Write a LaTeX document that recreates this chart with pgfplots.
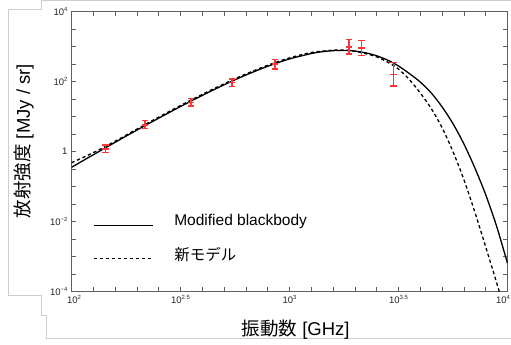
\documentclass[border=0pt]{standalone}
\usepackage{fontspec}
\setmainfont{Liberation Sans}
\newfontfamily\jp{Noto Sans CJK JP}
\usepackage{pgfplots}
\usepackage{pgfplotstable}
\pgfplotsset{compat=1.18}

\definecolor{errred}{RGB}{245,55,55}
\definecolor{framegray}{RGB}{205,205,205}
\definecolor{axgray}{RGB}{95,95,95}

\newcommand{\tl}[1]{10\raisebox{0.75ex}{\fontsize{6}{6}\selectfont #1}}

% observed values (centre)
\pgfplotstableread{
x y
143 1.19
217 5.79
353 25.8
545 93.6
857 320
1874 980
2141 918
2998 158.5
}\obstab

% error bar ends (lower, upper) for each observation
\pgfplotstableread{
x y
143 0.94
143 1.55
nan nan
217 4.54
217 7.69
nan nan
353 20.2
353 32.7
nan nan
545 71.9
545 119.4
nan nan
857 231
857 436
nan nan
1874 618
1874 1626
nan nan
2141 568
2141 1483
nan nan
2998 75.4
2998 349
}\errtab

\pgfplotstableread{
x y
100 0.358
125.9 0.818
158.5 1.854
199.5 4.130
251.2 9.078
316.2 19.50
398.1 40.64
501.2 81.47
631.0 155.2
794.3 275.4
1000 446.7
1258.9 636.8
1412.5 717.8
1584.9 770.9
1778.3 783.4
1995.3 749.9
2238.7 666.8
2511.9 549.5
2818.4 413.0
3162.3 280.5
3548.1 170.6
3981.1 97.7
4466.8 47.86
5011.9 19.05
5623.4 6.31
6309.6 1.660
7079.5 0.3467
7943.3 0.05888
8912.5 0.007413
10000 0.0006457
}\mbbtab

\pgfplotstableread{
x y
100 0.483
125.9 0.940
158.5 1.986
199.5 4.426
251.2 9.727
316.2 20.89
398.1 43.55
501.2 87.30
631.0 166.3
794.3 295.1
1000 478.6
1258.9 682.3
1584.9 794.3
1778.3 803.5
1995.3 741.3
2238.7 631.0
2511.9 512.9
2818.4 363.1
3162.3 229.1
3548.1 114.8
3981.1 47.42
4466.8 17.18
5011.9 4.853
5623.4 1.0
6309.6 0.1585
7079.5 0.01905
7943.3 0.001905
8912.5 0.000182
10000 0.00001585
}\newtab

\begin{document}
\begin{tikzpicture}
\useasboundingbox (0,0) rectangle (511bp,345bp);
\draw[framegray, line width=0.8bp] (511bp,344.5bp) -- (41bp,344.5bp) -- (41bp,336bp) -- (8bp,336bp) -- (8bp,50bp) -- (41bp,50bp) -- (41bp,30bp) -- (46bp,30bp) -- (46bp,7bp) -- (511bp,7bp);
\begin{axis}[
  at={(71.5bp,53.3bp)}, anchor=south west,
  scale only axis, width=436bp, height=280bp,
  xmode=log, ymode=log,
  xmin=100, xmax=10000, ymin=1e-4, ymax=1e4,
  unbounded coords=jump,
  axis line style={axgray, line width=0.7bp},
  tick style={axgray, line width=0.6bp},
  tick align=inside,
  major tick length=4.5bp, minor tick length=4.5bp,
  xtick={100,316.23,1000,3162.3,10000},
  xticklabels={\hspace*{5bp}\tl{2},\tl{2.5},\tl{3},\tl{3.5},\hspace*{-9bp}\tl{4}},
  minor xtick={125.89,158.49,199.53,251.19,398.11,501.19,630.96,794.33,1258.9,1584.9,1995.3,2511.9,3981.1,5011.9,6309.6,7943.3},
  ytick={1e-4,1e-2,1,1e2,1e4},
  yticklabels={\tl{−4},\tl{−2},1,\tl{2},\tl{4}},
  minor ytick={3.1623e-4,1e-3,3.1623e-3,3.1623e-2,0.1,0.31623,3.1623,10,31.623,316.23,1000,3162.3},
  ticklabel style={font=\fontsize{9.5bp}{10bp}\selectfont, text=black!85},
  yticklabel style={xshift=-0.5bp},
  xlabel={{\jp 振動数} [GHz]},
  ylabel={{\jp 放射強度} [MJy / sr]},
  label style={font=\fontsize{18.5bp}{20bp}\selectfont},
  xlabel style={at={(axis description cs:0.514,-0.137)}, anchor=center},
  ylabel style={at={(axis description cs:-0.109,0.538)}, anchor=center, rotate=0},
  legend style={draw=none, fill=none, inner sep=0pt, outer sep=0pt,
    at={(axis description cs:0.05,0.278)}, anchor=north west,
    font=\fontsize{15.5bp}{17bp}\selectfont, row sep=19bp,
    nodes={inner sep=0pt},
    /tikz/every odd column/.append style={column sep=20.6bp}},
  legend cell align=left,
  legend image code/.code={\path[draw=none] (0bp,7bp) -- (0bp,-7bp); \draw[#1, line width=1bp] (0bp,-4.5bp) -- (59.4bp,-4.5bp);},
]
\addplot[black, line width=1.3bp, smooth] table {\mbbtab};
\addlegendentry{Modified blackbody}
\addplot[black, line width=1.3bp, dash pattern=on 3.3bp off 2.7bp, smooth] table {\newtab};
\addlegendentry{{\jp 新モデル}}
\addplot[errred, line width=1.5bp, forget plot] table {\errtab};
\addplot[errred, only marks, mark=-, mark size=3.2bp, mark options={errred, line width=1.4bp}, forget plot] table {\errtab};
\addplot[errred, only marks, mark=-, mark size=3.2bp, mark options={errred, line width=1.4bp}, forget plot] table {\obstab};
\end{axis}
\end{tikzpicture}
\end{document}
